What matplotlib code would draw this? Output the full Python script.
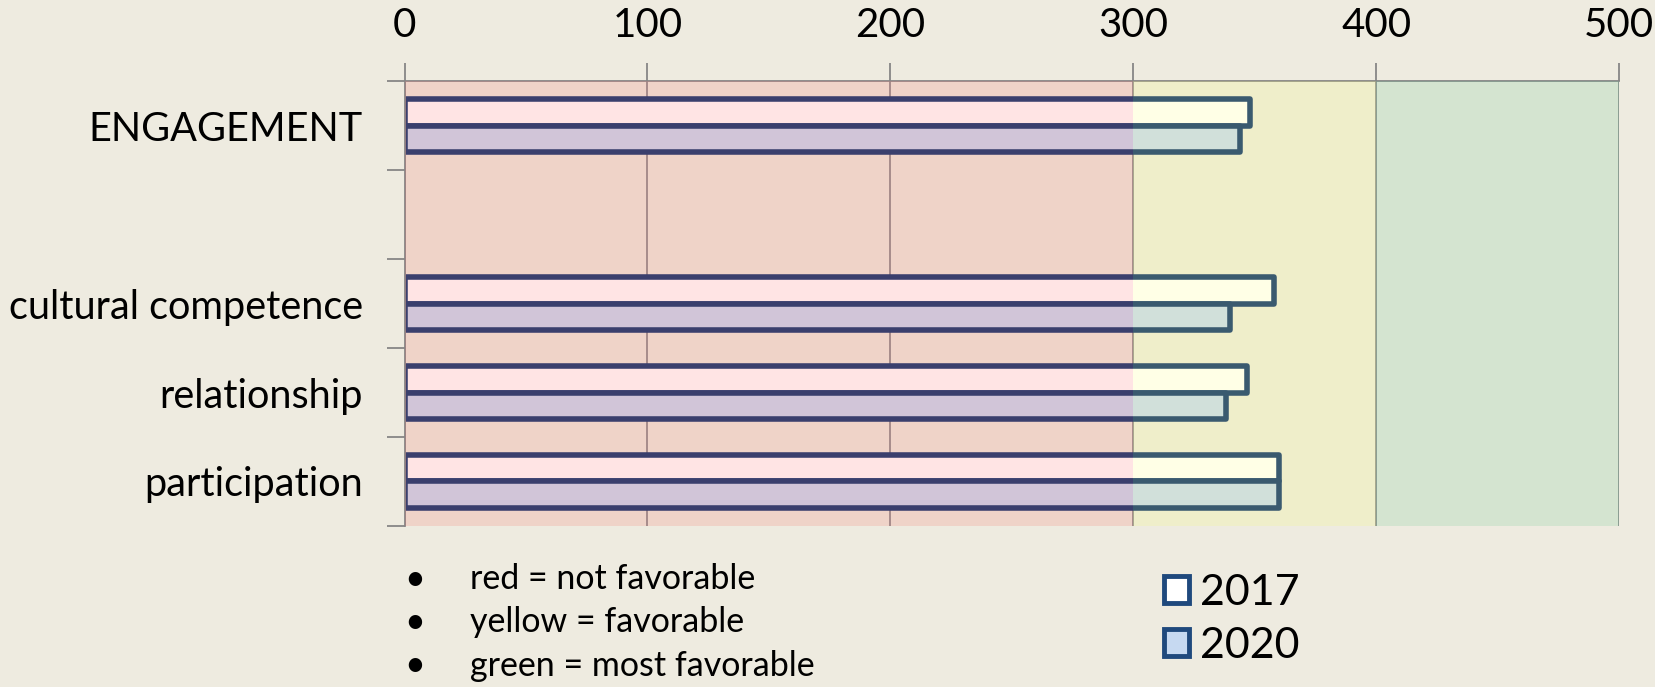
import matplotlib.pyplot as plt
from matplotlib.patches import Patch

# data
categories = ['ENGAGEMENT', 'cultural competence', 'relationship', 'participation']
slots = [4, 2, 1, 0]          # row 3 is left empty in the original
y2017 = [348, 358, 347, 360]
y2020 = [344, 340, 338, 360]
bands = [(0, 300, '#FF7878'), (300, 400, '#FFFF82'), (400, 500, '#74CCA0')]
notes = ['red = not favorable', 'yellow = favorable', 'green = most favorable']

plt.rcParams['font.family'] = ['Lato', 'DejaVu Sans']

fig = plt.figure(figsize=(16.56, 6.87), dpi=100)
fig.patch.set_facecolor('#EEEBE0')
ax = fig.add_axes([0.2443, 0.2344, 0.7334, 0.6473])
ax.set_facecolor('#ECEADC')

edge = '#09316B'
h = 0.3
ax.barh([s + h/2 for s in slots], y2017, height=h, color='white',
        edgecolor=edge, linewidth=4.0, joinstyle='round', zorder=2, label='2017')
ax.barh([s - h/2 for s in slots], y2020, height=h, color='#C6D9F1',
        edgecolor=edge, linewidth=4.0, joinstyle='round', zorder=2, label='2020')

# coloured zones laid over everything, like the original
for lo, hi, c in bands:
    ax.axvspan(lo, hi, color=c, alpha=0.2, lw=0, zorder=5)

ax.set_xlim(0, 500)
ax.set_ylim(-0.5, 4.5)
ax.xaxis.tick_top()
ax.set_xticks(range(0, 501, 100))
ax.grid(axis='x', color='#8A8A8A', lw=1.3, zorder=1)
ax.set_axisbelow(True)
ax.tick_params(axis='x', length=13, width=1.3, color='#868686', labelsize=29, pad=14)

ax.set_yticks(slots)
ax.set_yticklabels(categories)
ax.set_yticks([-0.5, 0.5, 1.5, 2.5, 3.5, 4.5], minor=True)
ax.tick_params(axis='y', which='major', length=0, labelsize=28.5, pad=30)
ax.tick_params(axis='y', which='minor', length=13, width=1.3, color='#868686')

for s in ['right', 'bottom']:
    ax.spines[s].set_visible(False)
for s in ['top', 'left']:
    ax.spines[s].set_color('#868686')
    ax.spines[s].set_linewidth(1.3)

ys = [0.157, 0.0946, 0.0306]
for yy, t in zip(ys, notes):
    fig.text(0.2506, yy, '\u2022', fontsize=26, va='center', ha='center')
    fig.text(0.2838, yy, t, fontsize=24.5, va='center')

handles = [Patch(facecolor='white', edgecolor='#1F497D', lw=3.5),
           Patch(facecolor='#C6D9F1', edgecolor='#1F497D', lw=3.5)]
fig.legend(handles, ['2017', '2020'], loc='upper left', bbox_to_anchor=(0.703, 0.165),
           frameon=False, fontsize=31, handlelength=0.58, handleheight=0.58,
           handletextpad=0.25, labelspacing=0.35, borderpad=0, borderaxespad=0)

fig.savefig('out.png', dpi=100, facecolor=fig.get_facecolor())
